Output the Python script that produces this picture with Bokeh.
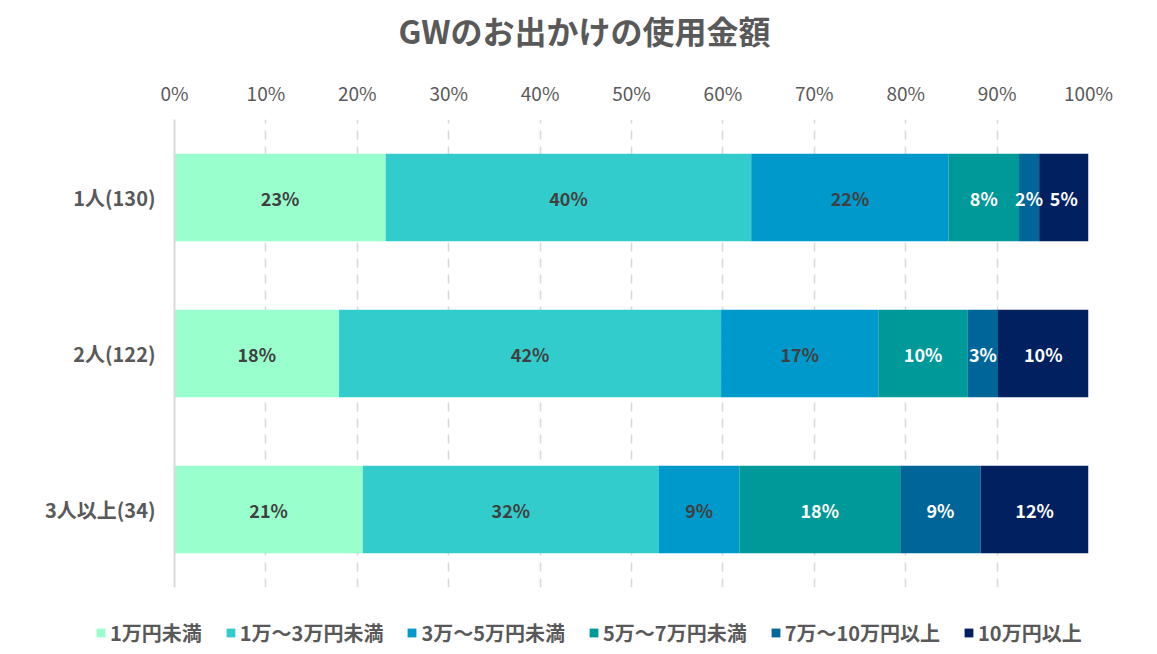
from bokeh.plotting import figure
from bokeh.layouts import column
from bokeh.models import (FactorRange, Range1d, ColumnDataSource, Legend, LegendItem,
                          FixedTicker, PrintfTickFormatter, Label)
from bokeh.embed import file_html
from bokeh.resources import INLINE

FONT = "Noto Sans CJK JP"
W = 1157

title_text = "GWのお出かけの使用金額"
categories = ["1人(130)", "2人(122)", "3人以上(34)"]
series = ["1万円未満", "1万～3万円未満", "3万～5万円未満", "5万～7万円未満", "7万～10万円以上", "10万円以上"]
colors = ["#99FFCC", "#33CCCC", "#0099CC", "#009999", "#006699", "#002060"]
label_colors = ["#404040", "#404040", "#404040", "#FFFFFF", "#FFFFFF", "#FFFFFF"]

s1 = [23.1, 18.0, 20.6]
s2 = [40.0, 41.8, 32.4]
s3 = [21.6, 17.2, 8.8]
s4 = [7.7, 9.8, 17.6]
s5 = [2.2, 3.3, 8.8]
s6 = [5.4, 9.9, 11.8]
values = [s1, s2, s3, s4, s5, s6]
x_ticks = [0, 10, 20, 30, 40, 50, 60, 70, 80, 90, 100]

keys = ["s%d" % i for i in range(len(series))]
data = {"cat": categories}
for k, v in zip(keys, values):
    data[k] = v
source = ColumnDataSource(data)

# ---------------- header (title) ----------------
HEAD_H = 60
head = figure(width=W, height=HEAD_H, output_backend="svg", toolbar_location=None,
              x_axis_type=None, y_axis_type=None, x_range=Range1d(0, 1), y_range=Range1d(0, 1),
              min_border=0, min_border_left=0, min_border_right=0, min_border_top=0, min_border_bottom=0)
head.frame_align = False
head.outline_line_color = None
head.add_layout(Label(x=584, y=HEAD_H / 2 + 1, x_units="screen", y_units="screen", text=title_text,
                      text_align="center", text_baseline="middle", text_font=FONT,
                      text_font_size="32px", text_font_style="bold", text_color="#595959"))

# ---------------- main chart ----------------
MAIN_H = 552
p = figure(width=W, height=MAIN_H, output_backend="svg", toolbar_location=None,
           y_range=FactorRange(*reversed(categories), range_padding=0),
           x_range=Range1d(0, 100), x_axis_location="above",
           min_border_left=174, min_border_right=69, min_border_top=59, min_border_bottom=25)
p.outline_line_color = None
p.background_fill_color = "white"

p.hbar_stack(keys, y="cat", height=0.56, color=colors, line_color=None, source=source)

lx, ly, lt, lc = [], [], [], []
for ci, cat in enumerate(categories):
    left = 0.0
    for si, v in enumerate(values):
        val = v[ci]
        lx.append(left + val / 2)
        ly.append(cat)
        lt.append("%d%%" % int(round(val)))
        lc.append(label_colors[si])
        left += val
lsrc = ColumnDataSource(dict(x=lx, y=ly, t=lt, c=lc))
p.text(x="x", y="y", text="t", text_color="c", source=lsrc, text_align="center",
       text_baseline="middle", text_font_size="18px", text_font_style="bold",
       text_font={"value": FONT})

xa = p.xaxis[0]
xa.ticker = FixedTicker(ticks=x_ticks)
xa.formatter = PrintfTickFormatter(format="%d%%")
xa.axis_line_color = None
xa.major_tick_line_color = None
xa.minor_tick_line_color = None
xa.major_tick_out = 0
xa.minor_tick_out = 0
xa.major_label_standoff = 14
xa.major_label_text_font = FONT
xa.major_label_text_font_size = "19px"
xa.major_label_text_color = "#595959"
xa.major_label_text_font_style = "normal"

ya = p.yaxis[0]
ya.axis_line_color = "#D9D9D9"
ya.axis_line_width = 2
ya.major_tick_line_color = None
ya.minor_tick_line_color = None
ya.major_tick_out = 0
ya.minor_tick_out = 0
ya.major_label_standoff = 19
ya.major_label_text_font = FONT
ya.major_label_text_font_size = "20px"
ya.major_label_text_font_style = "bold"
ya.major_label_text_color = "#595959"

p.xgrid.grid_line_color = "#D9D9D9"
p.xgrid.grid_line_width = 1.6
p.xgrid.grid_line_dash = "9 7"
p.ygrid.grid_line_color = None

# ---------------- legend strip ----------------
LEG_H = 42
leg = figure(width=W, height=LEG_H, output_backend="svg", toolbar_location=None,
             x_axis_type=None, y_axis_type=None, x_range=Range1d(0, 100),
             y_range=FactorRange(*categories),
             min_border=0, min_border_left=0, min_border_right=0, min_border_top=0, min_border_bottom=0)
leg.frame_align = False
leg.outline_line_color = None
leg_r = leg.hbar_stack(keys, y="cat", height=0.56, color=colors, line_color=None,
                       source=source, visible=False)
items = [LegendItem(label=s, renderers=[r]) for s, r in zip(series, leg_r)]
legend = Legend(items=items, orientation="horizontal", location=(95, 7),
                label_text_font=FONT, label_text_font_size="20px", label_text_font_style="bold",
                label_text_color="#595959", glyph_width=11, glyph_height=11,
                label_standoff=4, spacing=23, border_line_color=None,
                background_fill_alpha=0, inactive_fill_alpha=0, padding=0, margin=0)
leg.add_layout(legend, "center")

layout = column(head, p, leg, spacing=0)
open("out.html", "w").write(file_html(layout, INLINE))
